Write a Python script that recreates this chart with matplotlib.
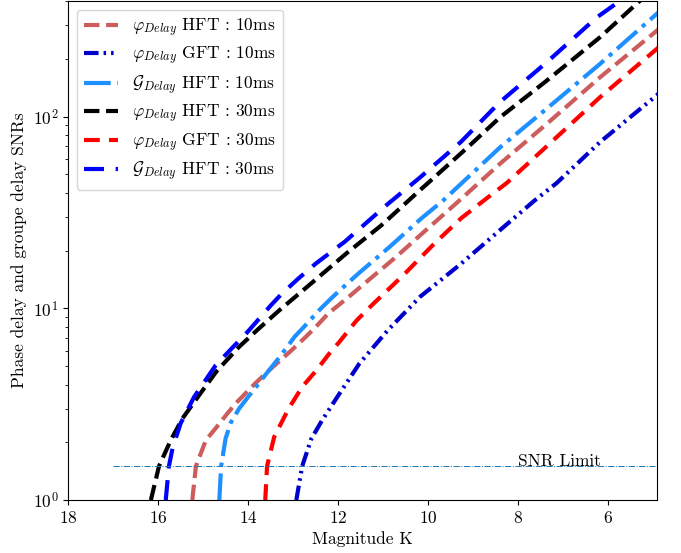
import numpy as np
import matplotlib
matplotlib.use('Agg')
import matplotlib.pyplot as plt

plt.rcParams['font.family'] = 'serif'
plt.rcParams['font.serif'] = ['cmr10']
plt.rcParams['mathtext.fontset'] = 'cm'
plt.rcParams['axes.formatter.use_mathtext'] = True

# values (magnitude K, SNR)
mag_phi_hft_10 = [15.24, 15.16, 14.94, 14.64, 14.45, 14.27, 14.06, 13.87, 13.6, 13.27, 13.05, 12.72, 12.52, 12.22,
                  11.78, 11.38, 10.72, 10.1, 9.39, 8.41, 7.37, 6.19, 4.93, 4.5]
snr_phi_hft_10 = [1.0, 1.5, 2.05, 2.5, 2.85, 3.2, 3.6, 4.0, 4.6, 5.4, 6.0, 7.1, 7.9, 9.4,
                  11.4, 13.7, 18.5, 25, 35.1, 56.7, 91.6, 160, 280, 340]

mag_phi_gft_10 = [12.93, 12.8, 12.6, 12.36, 12.02, 11.53, 10.9, 10.18, 9.27, 8.5, 7.64, 7.15, 6.19, 4.93, 4.5]
snr_phi_gft_10 = [1.0, 1.5, 2.08, 2.6, 3.45, 5.15, 7.68, 11.5, 17.1, 24.5, 36.5, 45, 73.5, 129, 158]

mag_g_hft_10 = [14.64, 14.6, 14.5, 14.38, 14.2, 13.98, 13.8, 13.6, 13.36, 13.16, 12.97, 12.74, 12.63, 12.4,
                12.15, 12.0, 11.55, 10.86, 10.15, 9.67, 8.41, 7.37, 6.19, 4.93, 4.5]
snr_g_hft_10 = [1.0, 1.5, 2.1, 2.55, 3.0, 3.5, 3.95, 4.55, 5.35, 6.17, 7.1, 8.1, 8.65, 9.9,
                11.3, 12.2, 15.2, 20.9, 29.5, 36.5, 69, 110, 188, 343, 420]

mag_phi_hft_30 = [16.16, 15.98, 15.72, 15.46, 15.09, 14.7, 14.2, 13.8, 13.3, 12.55, 11.8, 11.05, 10.2, 9.1,
                  8.41, 7.37, 6.19, 5.3, 4.5]
snr_phi_hft_30 = [1.0, 1.5, 2.05, 2.66, 3.52, 4.7, 6.3, 7.7, 9.8, 13.8, 19.5, 27, 41, 70,
                  99, 154, 259, 402, 580]

mag_phi_gft_30 = [13.62, 13.58, 13.42, 13.1, 12.8, 12.5, 12.2, 11.97, 11.6, 11.25, 10.54, 10.19, 9.87, 9.27,
                  8.67, 8.26, 7.37, 6.19, 4.93, 4.5]
snr_phi_gft_30 = [1.0, 1.5, 2.14, 3.0, 3.89, 4.7, 5.8, 6.7, 8.6, 10.4, 15.0, 18.2, 21.7, 29.5,
                  38, 45, 70, 126, 225, 275]

mag_g_hft_30 = [15.83, 15.76, 15.68, 15.5, 15.2, 14.72, 14.33, 14.02, 13.49, 13.27, 12.9, 12.5, 11.85, 10.9,
                10.19, 9.27, 8.41, 7.37, 6.26, 5.74, 4.5]
snr_g_hft_30 = [1.0, 1.5, 1.86, 2.51, 3.45, 5.05, 6.3, 7.5, 10.4, 11.8, 14.2, 17.1, 22.3, 35,
                48, 74, 119, 192, 329, 402, 710]

snr_limit = 1.5

fig = plt.figure(figsize=(6.81, 5.53), dpi=100)
ax = fig.add_axes([0.0999, 0.0958, 0.8642, 0.902])

ax.plot(mag_phi_hft_10, snr_phi_hft_10, color='indianred', ls='--', lw=3,
        label=r'$\varphi_{Delay}$ HFT : 10ms')
ax.plot(mag_phi_gft_10, snr_phi_gft_10, color='mediumblue', lw=3,
        ls=(0, (3.5, 1.2, 0.6, 1.2, 0.6, 1.2)), label=r'$\varphi_{Delay}$ GFT : 10ms')
ax.plot(mag_g_hft_10, snr_g_hft_10, color='dodgerblue', ls='-.', lw=3,
        label=r'$\mathcal{G}_{Delay}$ HFT : 10ms')
ax.plot(mag_phi_hft_30, snr_phi_hft_30, color='black', ls='--', lw=3,
        label=r'$\varphi_{Delay}$ HFT : 30ms')
ax.plot(mag_phi_gft_30, snr_phi_gft_30, color='red', ls=(0, (3.8, 2.2)), lw=3,
        label=r'$\varphi_{Delay}$ GFT : 30ms')
ax.plot(mag_g_hft_30, snr_g_hft_30, color='blue', ls=(0, (4.8, 2.8)), lw=3,
        label=r'$\mathcal{G}_{Delay}$ HFT : 30ms')

# SNR limit line
ax.hlines(snr_limit, 17, 4.9, colors='#1f77b4', linestyles='-.', lw=0.7)
ax.text(8, snr_limit, 'SNR Limit', fontsize=12.5, va='baseline', ha='left')

ax.set_yscale('log')
ax.set_xlim(18, 4.93)
ax.set_ylim(1, 400)
ax.set_xlabel('Magnitude K', fontsize=12.5)
ax.set_ylabel('Phase delay and groupe delay SNRs', fontsize=12.5)
ax.tick_params(labelsize=12.5)
ax.legend(loc='upper left', fontsize=12.5, labelspacing=0.36)

fig.savefig('out.png', dpi=100)
